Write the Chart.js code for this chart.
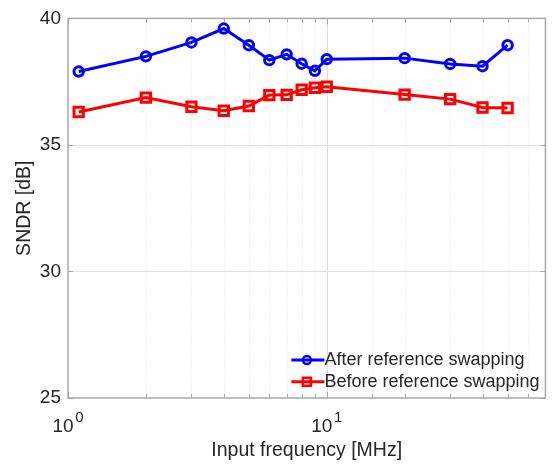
<!DOCTYPE html>
<html>
<head>
<meta charset="utf-8">
<script src="https://cdn.jsdelivr.net/npm/chart.js@4/dist/chart.umd.min.js"></script>
<style>
  html, body { margin: 0; padding: 0; background: #fff; }
  #chart { display: block; }
</style>
</head>
<body>
<canvas id="chart" width="555" height="466"></canvas>
<script>
const FONT = '"Liberation Sans", Arial, Helvetica, sans-serif';
const TEXT = "#262626";

const freqs = [1.1, 2, 3, 4, 5, 6, 7, 8, 9, 10, 20, 30, 40, 50];
const afterSwap = [37.9, 38.5, 39.05, 39.6, 38.94, 38.35, 38.58, 38.21, 37.93, 38.39, 38.43, 38.2, 38.11, 38.94];
const beforeSwap = [36.3, 36.87, 36.51, 36.35, 36.54, 36.97, 36.98, 37.18, 37.26, 37.3, 36.99, 36.81, 36.48, 36.46];
const seriesLabels = ["After reference swapping", "Before reference swapping"];
const yTicks = [25, 30, 35, 40];
const xMajor = [1, 10];

function toPoints(values) {
  return values.map((v, i) => ({ x: freqs[i], y: v }));
}

// grid, box, inward ticks, 10^n labels and the inside legend (MATLAB look)
const matlabAxes = {
  id: "matlabAxes",
  beforeDatasetsDraw(chart) {
    const { ctx, chartArea: a, scales: { x, y } } = chart;
    ctx.save();
    ctx.lineWidth = 1;
    x.ticks.forEach(t => {
      const px = Math.round(x.getPixelForValue(t.value)) + 0.5;
      if (px <= a.left + 1 || px >= a.right - 1) return;
      const major = xMajor.includes(t.value);
      ctx.strokeStyle = major ? "#dedede" : "#e2e2e2";
      ctx.setLineDash(major ? [] : [1, 2]);
      ctx.beginPath();
      ctx.moveTo(px, a.top);
      ctx.lineTo(px, a.bottom);
      ctx.stroke();
    });
    ctx.setLineDash([]);
    ctx.strokeStyle = "#e0e0e0";
    yTicks.forEach(v => {
      const py = Math.round(y.getPixelForValue(v)) + 0.5;
      if (py <= a.top + 1 || py >= a.bottom - 1) return;
      ctx.beginPath();
      ctx.moveTo(a.left, py);
      ctx.lineTo(a.right, py);
      ctx.stroke();
    });
    ctx.restore();
  },
  afterDatasetsDraw(chart) {
    const { ctx, chartArea: a, scales: { x, y } } = chart;
    ctx.save();
    ctx.strokeStyle = "#a8a8a8";
    ctx.lineWidth = 1.5;
    ctx.strokeRect(a.left, a.top, a.right - a.left, a.bottom - a.top);

    ctx.lineWidth = 1;
    x.ticks.forEach(t => {
      const px = Math.round(x.getPixelForValue(t.value)) + 0.5;
      const len = xMajor.includes(t.value) ? 6 : 4;
      ctx.beginPath();
      ctx.moveTo(px, a.bottom);
      ctx.lineTo(px, a.bottom - len);
      ctx.moveTo(px, a.top);
      ctx.lineTo(px, a.top + len);
      ctx.stroke();
    });
    yTicks.forEach(v => {
      const py = Math.round(y.getPixelForValue(v)) + 0.5;
      ctx.beginPath();
      ctx.moveTo(a.left, py);
      ctx.lineTo(a.left + 5, py);
      ctx.moveTo(a.right, py);
      ctx.lineTo(a.right - 5, py);
      ctx.stroke();
    });

    // x tick labels as 10 with a raised exponent
    ctx.fillStyle = TEXT;
    ctx.textBaseline = "alphabetic";
    ctx.textAlign = "left";
    xMajor.forEach(v => {
      const px = x.getPixelForValue(v);
      const exp = String(Math.round(Math.log10(v)));
      ctx.font = `19px ${FONT}`;
      const w1 = ctx.measureText("10").width;
      ctx.font = `15px ${FONT}`;
      const w2 = ctx.measureText(exp).width;
      const start = px - (w1 + w2 + 1.5) / 2;
      ctx.font = `19px ${FONT}`;
      ctx.fillText("10", start, a.bottom + 33.5);
      ctx.font = `15px ${FONT}`;
      ctx.fillText(exp, start + w1 + 1.5, a.bottom + 23.5);
    });

    // legend inside the lower right corner
    const lx = a.right - 254;
    ctx.font = `18px ${FONT}`;
    ctx.textBaseline = "middle";
    chart.data.datasets.forEach((ds, i) => {
      const ly = a.bottom - 38 + i * 21.7;
      ctx.strokeStyle = ds.borderColor;
      ctx.lineWidth = 3;
      ctx.beginPath();
      ctx.moveTo(lx, ly);
      ctx.lineTo(lx + 33, ly);
      ctx.stroke();
      const mx = lx + 15.5;
      ctx.lineWidth = 2.5;
      ctx.beginPath();
      if (ds.pointStyle === "rect") {
        ctx.rect(mx - 4, ly - 4, 8, 8);
      } else {
        ctx.arc(mx, ly, 4, 0, Math.PI * 2);
      }
      ctx.stroke();
      ctx.fillStyle = TEXT;
      ctx.fillText(ds.label, lx + 33, ly + 0.5);
    });
    ctx.restore();
  }
};

new Chart(document.getElementById("chart"), {
  type: "line",
  data: {
    datasets: [
      {
        label: seriesLabels[0],
        data: toPoints(afterSwap),
        borderColor: "#0000ff",
        backgroundColor: "#0000ff",
        borderWidth: 3,
        pointStyle: "circle",
        pointRadius: 4.7,
        pointBorderWidth: 3,
        pointBackgroundColor: "rgba(0,0,0,0)",
        pointBorderColor: "#0000ff",
        tension: 0
      },
      {
        label: seriesLabels[1],
        data: toPoints(beforeSwap),
        borderColor: "#ff0000",
        backgroundColor: "#ff0000",
        borderWidth: 3,
        pointStyle: "rect",
        pointRadius: 6.6,
        pointBorderWidth: 3,
        pointBackgroundColor: "rgba(0,0,0,0)",
        pointBorderColor: "#ff0000",
        tension: 0
      }
    ]
  },
  options: {
    responsive: false,
    animation: false,
    devicePixelRatio: 1,
    layout: { padding: { top: 17, right: 7, left: 0, bottom: 0 } },
    plugins: {
      legend: { display: false },
      tooltip: { enabled: false }
    },
    scales: {
      x: {
        type: "logarithmic",
        min: 1,
        max: 70,
        grid: { display: false, drawTicks: false },
        border: { display: false },
        ticks: { display: false },
        title: {
          display: true,
          text: "Input frequency [MHz]",
          color: TEXT,
          font: { family: FONT, size: 19.5 },
          padding: { top: 0, bottom: 4 }
        },
        afterFit: s => { s.height = 68; }
      },
      y: {
        min: 25,
        max: 40,
        grid: { display: false, drawTicks: false },
        border: { display: false },
        ticks: {
          stepSize: 5,
          padding: 7,
          color: TEXT,
          font: { family: FONT, size: 19 }
        },
        title: {
          display: true,
          text: "SNDR [dB]",
          color: TEXT,
          font: { family: FONT, size: 19.5 },
          padding: { top: 13, bottom: 0 }
        },
        afterFit: s => { s.width = 68; }
      }
    }
  },
  plugins: [matlabAxes]
});
</script>
</body>
</html>
